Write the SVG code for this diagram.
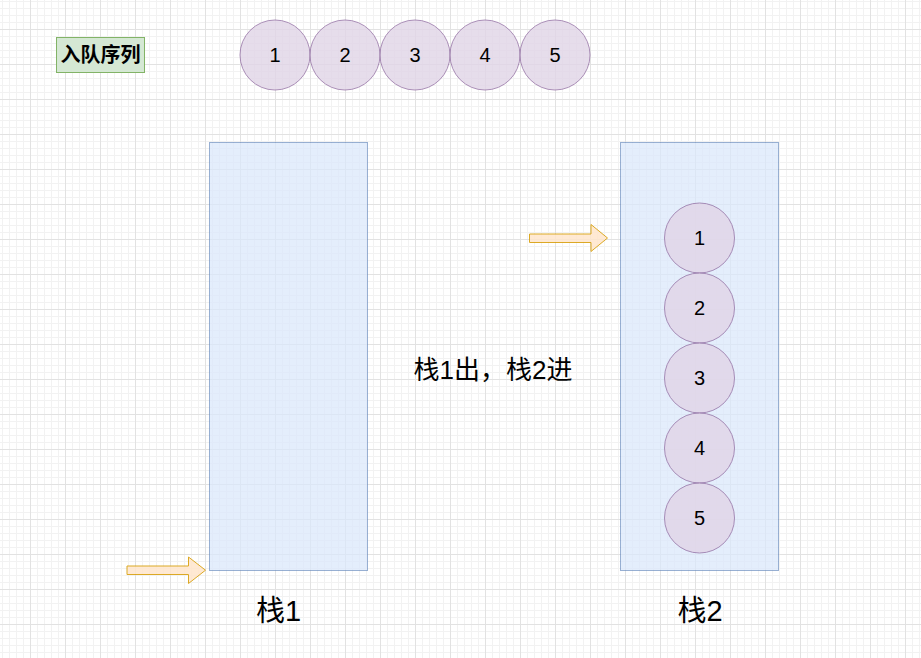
<svg xmlns="http://www.w3.org/2000/svg" width="921" height="658" viewBox="0 0 921 658">
<defs>
<pattern id="grid" x="30" y="29" width="35" height="35" patternUnits="userSpaceOnUse">
<path d="M7.5 0V35M14.5 0V35M21.5 0V35M28.5 0V35M0 7.5H35M0 14.5H35M0 21.5H35M0 28.5H35" stroke="#f2f2f2" stroke-width="1" fill="none"/>
<path d="M0.5 0V35M0 0.5H35" stroke="#e2e2e2" stroke-width="1" fill="none"/>
</pattern>
</defs>
<style>
text{font-family:"Liberation Sans","Noto Sans CJK SC",sans-serif;fill:#000}
.stack{fill:#dae8fc;stroke:#6c8ebf;stroke-width:1;opacity:0.7}
.ball{fill:#e1d5e7;stroke:#9673a6;stroke-width:1;opacity:0.8}
.arrow{fill:#ffe6cc;stroke:#d79b00;stroke-width:1;opacity:0.85}
.num{font-size:20px;text-anchor:middle}
.big{font-size:29px;text-anchor:middle}
</style>
<rect width="921" height="658" fill="#ffffff"/>
<rect width="921" height="658" fill="url(#grid)"/>

<g id="label-queue">
<rect x="56.5" y="37.5" width="88" height="35" fill="#d5e8d4" stroke="#82b366"/>
<text x="100.5" y="62" font-size="20" font-weight="bold" text-anchor="middle">入队序列</text>
</g>

<g id="q1"><circle class="ball" cx="275" cy="55" r="35"/><text class="num" x="275" y="62">1</text></g>
<g id="q2"><circle class="ball" cx="345" cy="55" r="35"/><text class="num" x="345" y="62">2</text></g>
<g id="q3"><circle class="ball" cx="415" cy="55" r="35"/><text class="num" x="415" y="62">3</text></g>
<g id="q4"><circle class="ball" cx="485" cy="55" r="35"/><text class="num" x="485" y="62">4</text></g>
<g id="q5"><circle class="ball" cx="555" cy="55" r="35"/><text class="num" x="555" y="62">5</text></g>

<g id="stack1">
<rect class="stack" x="209.5" y="142.5" width="158" height="428"/>
<text class="big" x="278.5" y="621">栈1</text>
</g>

<g id="stack2">
<rect class="stack" x="620.5" y="142.5" width="158" height="428"/>
<text class="big" x="700" y="621">栈2</text>
</g>

<g id="s1"><circle class="ball" cx="699.5" cy="238" r="35"/><text class="num" x="699.5" y="245">1</text></g>
<g id="s2"><circle class="ball" cx="699.5" cy="308" r="35"/><text class="num" x="699.5" y="315">2</text></g>
<g id="s3"><circle class="ball" cx="699.5" cy="378" r="35"/><text class="num" x="699.5" y="385">3</text></g>
<g id="s4"><circle class="ball" cx="699.5" cy="448" r="35"/><text class="num" x="699.5" y="455">4</text></g>
<g id="s5"><circle class="ball" cx="699.5" cy="518" r="35"/><text class="num" x="699.5" y="525">5</text></g>

<g id="caption">
<text x="493" y="379" font-size="26" text-anchor="middle">栈1出，栈2进</text>
</g>

<g id="connectors">
<path class="arrow" d="M127 566H188.5V557L205.5 570.2L188.5 583.5V574.5H127Z"/>
<path class="arrow" d="M529.5 234H591V224.5L607.5 238L591 251.5V242.5H529.5Z"/>
</g>
</svg>
